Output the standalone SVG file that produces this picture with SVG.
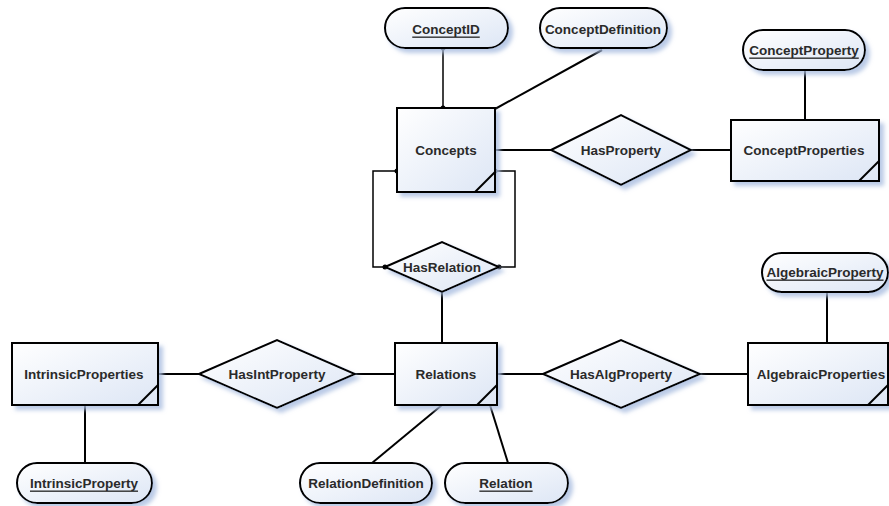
<svg xmlns="http://www.w3.org/2000/svg" width="889" height="506" viewBox="0 0 889 506">
<defs>
<linearGradient id="g" x1="0" y1="0" x2="1" y2="1">
<stop offset="0" stop-color="#ffffff"/>
<stop offset="1" stop-color="#dde6f5"/>
</linearGradient>
<filter id="sh" x="-20%" y="-20%" width="150%" height="160%">
<feGaussianBlur in="SourceAlpha" stdDeviation="2"/>
<feOffset dx="4" dy="4" result="o"/>
<feFlood flood-color="#a9bde0" flood-opacity="0.8"/>
<feComposite in2="o" operator="in"/>
<feMerge><feMergeNode/><feMergeNode in="SourceGraphic"/></feMerge>
</filter>
</defs>
<style>
.s{fill:url(#g);stroke:#000;stroke-width:2;filter:url(#sh)}
.c{fill:none;stroke:#000;stroke-width:2}
.l{fill:none;stroke:#000;stroke-width:1.5}
.t{font-family:"Liberation Sans",Arial,sans-serif;font-weight:bold;font-size:13.5px;fill:#2a2a2a;text-anchor:middle;dominant-baseline:central}
.u{text-decoration:underline}
.d{fill:#000}
</style>
<rect width="889" height="506" fill="#fff"/>
<g id="connectors">
<line class="l" x1="443" y1="48" x2="443" y2="108"/>
<line class="c" x1="602" y1="50" x2="495" y2="109"/>
<line class="c" x1="495" y1="150" x2="551" y2="150"/>
<line class="c" x1="691" y1="150" x2="731" y2="150"/>
<line class="c" x1="805" y1="70" x2="805" y2="120"/>
<polyline class="l" points="397,171 373,171 373,267 385,267"/>
<polyline class="l" points="495,171 515,171 515,267 499,267"/>
<line class="c" x1="442" y1="292" x2="442" y2="343"/>
<line class="c" x1="158" y1="374" x2="199" y2="374"/>
<line class="c" x1="355" y1="374" x2="395" y2="374"/>
<line class="c" x1="497" y1="374" x2="543" y2="374"/>
<line class="c" x1="700" y1="374" x2="748" y2="374"/>
<line class="c" x1="827" y1="292" x2="827" y2="343"/>
<line class="c" x1="85" y1="405" x2="85" y2="463"/>
<line class="c" x1="442" y1="405" x2="372" y2="463"/>
<line class="c" x1="490" y1="405" x2="508" y2="463"/>
<circle class="d" cx="443" cy="48" r="2.5"/>
<circle class="d" cx="443" cy="108" r="2.5"/>
<circle class="d" cx="397" cy="171" r="2.5"/>
<circle class="d" cx="495" cy="171" r="2.5"/>
<circle class="d" cx="385" cy="267" r="2.5"/>
<circle class="d" cx="499" cy="267" r="2.5"/>
</g>
<g id="ConceptID"><rect class="s" x="385" y="8" width="123" height="40" rx="20"/><text class="t u" x="446" y="29">ConceptID</text></g>
<g id="ConceptDefinition"><rect class="s" x="540" y="8" width="127" height="40" rx="20"/><text class="t" x="603" y="29">ConceptDefinition</text></g>
<g id="ConceptProperty"><rect class="s" x="743" y="30" width="122" height="40" rx="20"/><text class="t u" x="804" y="50">ConceptProperty</text></g>
<g id="Concepts"><rect class="s" x="397" y="108" width="98" height="84"/><line class="c" x1="475" y1="192" x2="495" y2="172"/><text class="t" x="446" y="150">Concepts</text></g>
<g id="HasProperty"><polygon class="s" points="551,150 621,115 691,150 621,185"/><text class="t" x="621" y="150">HasProperty</text></g>
<g id="ConceptProperties"><rect class="s" x="731" y="120" width="148" height="61"/><line class="c" x1="859" y1="181" x2="879" y2="161"/><text class="t" x="804" y="150">ConceptProperties</text></g>
<g id="HasRelation"><polygon class="s" points="385,267 442,242 499,267 442,292"/><text class="t" x="442" y="267">HasRelation</text></g>
<g id="IntrinsicProperties"><rect class="s" x="12" y="343" width="146" height="62"/><line class="c" x1="138" y1="405" x2="158" y2="385"/><text class="t" x="84" y="374">IntrinsicProperties</text></g>
<g id="HasIntProperty"><polygon class="s" points="199,374 277,340 355,374 277,408"/><text class="t" x="277" y="374">HasIntProperty</text></g>
<g id="Relations"><rect class="s" x="395" y="343" width="102" height="62"/><line class="c" x1="477" y1="405" x2="497" y2="385"/><text class="t" x="446" y="374">Relations</text></g>
<g id="HasAlgProperty"><polygon class="s" points="543,374 621,340 700,374 621,408"/><text class="t" x="621" y="374">HasAlgProperty</text></g>
<g id="AlgebraicProperties"><rect class="s" x="748" y="343" width="140" height="62"/><line class="c" x1="868" y1="405" x2="888" y2="385"/><text class="t" x="821" y="374">AlgebraicProperties</text></g>
<g id="AlgebraicProperty"><rect class="s" x="762" y="253" width="126" height="39" rx="19.5"/><text class="t u" x="825" y="272">AlgebraicProperty</text></g>
<g id="IntrinsicProperty"><rect class="s" x="17" y="463" width="135" height="40" rx="20"/><text class="t u" x="84" y="483">IntrinsicProperty</text></g>
<g id="RelationDefinition"><rect class="s" x="300" y="463" width="132" height="40" rx="20"/><text class="t" x="366" y="483">RelationDefinition</text></g>
<g id="Relation"><rect class="s" x="445" y="463" width="123" height="40" rx="20"/><text class="t u" x="506" y="483">Relation</text></g>
</svg>
